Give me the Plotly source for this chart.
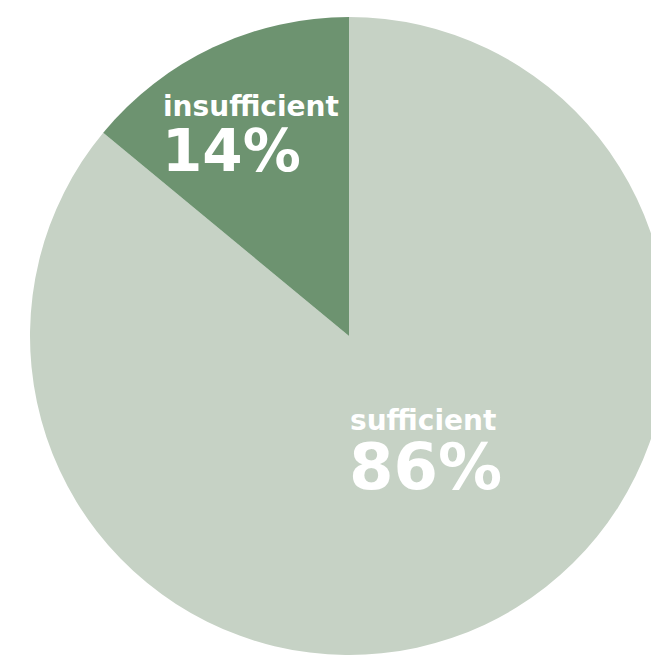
import plotly.graph_objects as go

labels = ["sufficient", "insufficient"]
values = [86, 14]
colors = ["#c6d2c5", "#6d9370"]

W, H = 698, 655

fig = go.Figure(go.Pie(
    labels=labels, values=values, sort=False, direction="clockwise", rotation=0,
    marker=dict(colors=colors, line=dict(width=0)),
    textinfo="none", hoverinfo="label+percent",
    domain=dict(x=[0, 1], y=[0, 1 - 17 / H]),
    showlegend=False,
))

def px(x):
    return x / W

def py(y):
    return 1 - y / H

font = "DejaVu Sans"
ann = [
    dict(text="<b>%s</b>" % labels[1], x=px(161), y=py(107), size=28),
    dict(text="<b>%d%%</b>" % values[1], x=px(160), y=py(151), size=58),
    dict(text="<b>%s</b>" % labels[0], x=px(348), y=py(420), size=28),
    dict(text="<b>%d%%</b>" % values[0], x=px(347), y=py(467), size=64),
]
for a in ann:
    fig.add_annotation(text=a["text"], x=a["x"], y=a["y"], xref="paper", yref="paper",
                       xanchor="left", yanchor="middle", showarrow=False,
                       font=dict(family=font, size=a["size"], color="white"))

fig.update_layout(width=W, height=H, margin=dict(l=0, r=0, t=0, b=0),
                  paper_bgcolor="white", plot_bgcolor="white")

fig.write_html("out.html", config=dict(displayModeBar=False),
               post_script="document.body.style.margin='0';document.body.style.overflow='hidden';document.documentElement.style.overflow='hidden';")
